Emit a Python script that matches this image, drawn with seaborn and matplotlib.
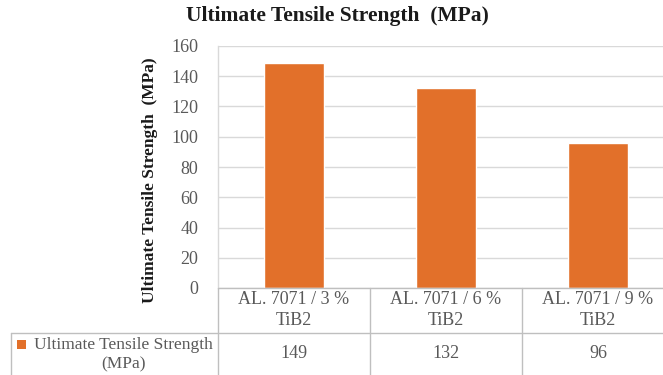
import matplotlib
matplotlib.use("Agg")
import matplotlib.pyplot as plt
import matplotlib.transforms as mtransforms
from matplotlib.lines import Line2D
from matplotlib.patches import Rectangle
import seaborn as sns
import pandas as pd

categories = ["AL. 7071 / 3 %\nTiB2", "AL. 7071 / 6 %\nTiB2", "AL. 7071 / 9 %\nTiB2"]
values = [149, 132, 96]
series_name = "Ultimate Tensile Strength\n(MPa)"
title = "Ultimate Tensile Strength  (MPa)"
ylabel = "Ultimate Tensile Strength  (MPa)"
yticks = [0, 20, 40, 60, 80, 100, 120, 140, 160]

sns.set_theme(style="white")
plt.rcParams["font.family"] = ["Liberation Serif", "DejaVu Serif"]

BAR = "#E2702A"
GRID = "#D9D9D9"
TXT = "#595959"

W, H = 663, 375
fig = plt.figure(figsize=(W / 100, H / 100), dpi=100)
fig.patch.set_facecolor("white")

x0, x1, y0, y1 = 218, 674, 288, 46
ax = fig.add_axes([x0 / W, 1 - y0 / H, (x1 - x0) / W, (y0 - y1) / H])

df = pd.DataFrame({"cat": categories, "val": values})
sns.barplot(data=df, x="cat", y="val", color=BAR, width=0.4, saturation=1, ax=ax)

ax.set_ylim(0, 160)
ax.set_xlim(-0.5, 2.5)
ax.set_yticks(yticks)
ax.set_yticklabels([str(t) for t in yticks], fontsize=13, color=TXT)
ax.set_xticks([])
ax.set_xlabel("")
ax.set_ylabel("")
ax.tick_params(axis="y", length=0, pad=14)
ax.grid(axis="y", color=GRID, linewidth=1)
ax.set_axisbelow(True)
for s in ["top", "right", "bottom"]:
    ax.spines[s].set_visible(False)
ax.spines["left"].set_color(GRID)
ax.spines["left"].set_linewidth(1)

# Title and y label
fig.text(337 / W, 1 - 16 / H, title, ha="center", va="center", fontsize=15.5,
         fontweight="bold", color="#1a1a1a")
fig.text(150 / W, 1 - 180 / H, ylabel, ha="center", va="center", fontsize=12.5,
         fontweight="bold", rotation=90, color="#1a1a1a")

# Data table (drawn in figure pixel coordinates)
tf = fig.transFigure
def fx(px):
    return px / W
def fy(py):
    return 1 - py / H

lc = "#BFBFBF"
row_mid = 333
lines = [
    ((x0, 700), (y0, y0)),
    ((11, 700), (row_mid, row_mid)),
    ((11, 11), (row_mid, 380)),
    ((x0, x0), (y0, 380)),
]
blend = mtransforms.blended_transform_factory(ax.transData, tf)
for i in range(len(categories)):
    xb = i + 0.5
    xpix = ax.transData.transform((xb, 0))[0]
    lines.append(((xpix, xpix), (y0, 380)))
for (xa, xb_), (ya, yb) in lines:
    fig.add_artist(Line2D([fx(xa), fx(xb_)], [fy(ya), fy(yb)], transform=tf,
                          color=lc, linewidth=1))

for i, (c, v) in enumerate(zip(categories, values)):
    fig.text(i, fy(310), c, transform=blend, ha="center", va="center",
             fontsize=13, color=TXT, linespacing=1.25)
    fig.text(i, fy(353), str(v), transform=blend, ha="center", va="center",
             fontsize=13, color=TXT)

fig.add_artist(Rectangle((fx(17), fy(349)), 9 / W, 9 / H, transform=tf,
                         facecolor=BAR, edgecolor="none"))
fig.text(fx(123), fy(355), series_name, ha="center", va="center", fontsize=12.5,
         color=TXT, linespacing=1.3)

fig.savefig("out.png", dpi=100)
